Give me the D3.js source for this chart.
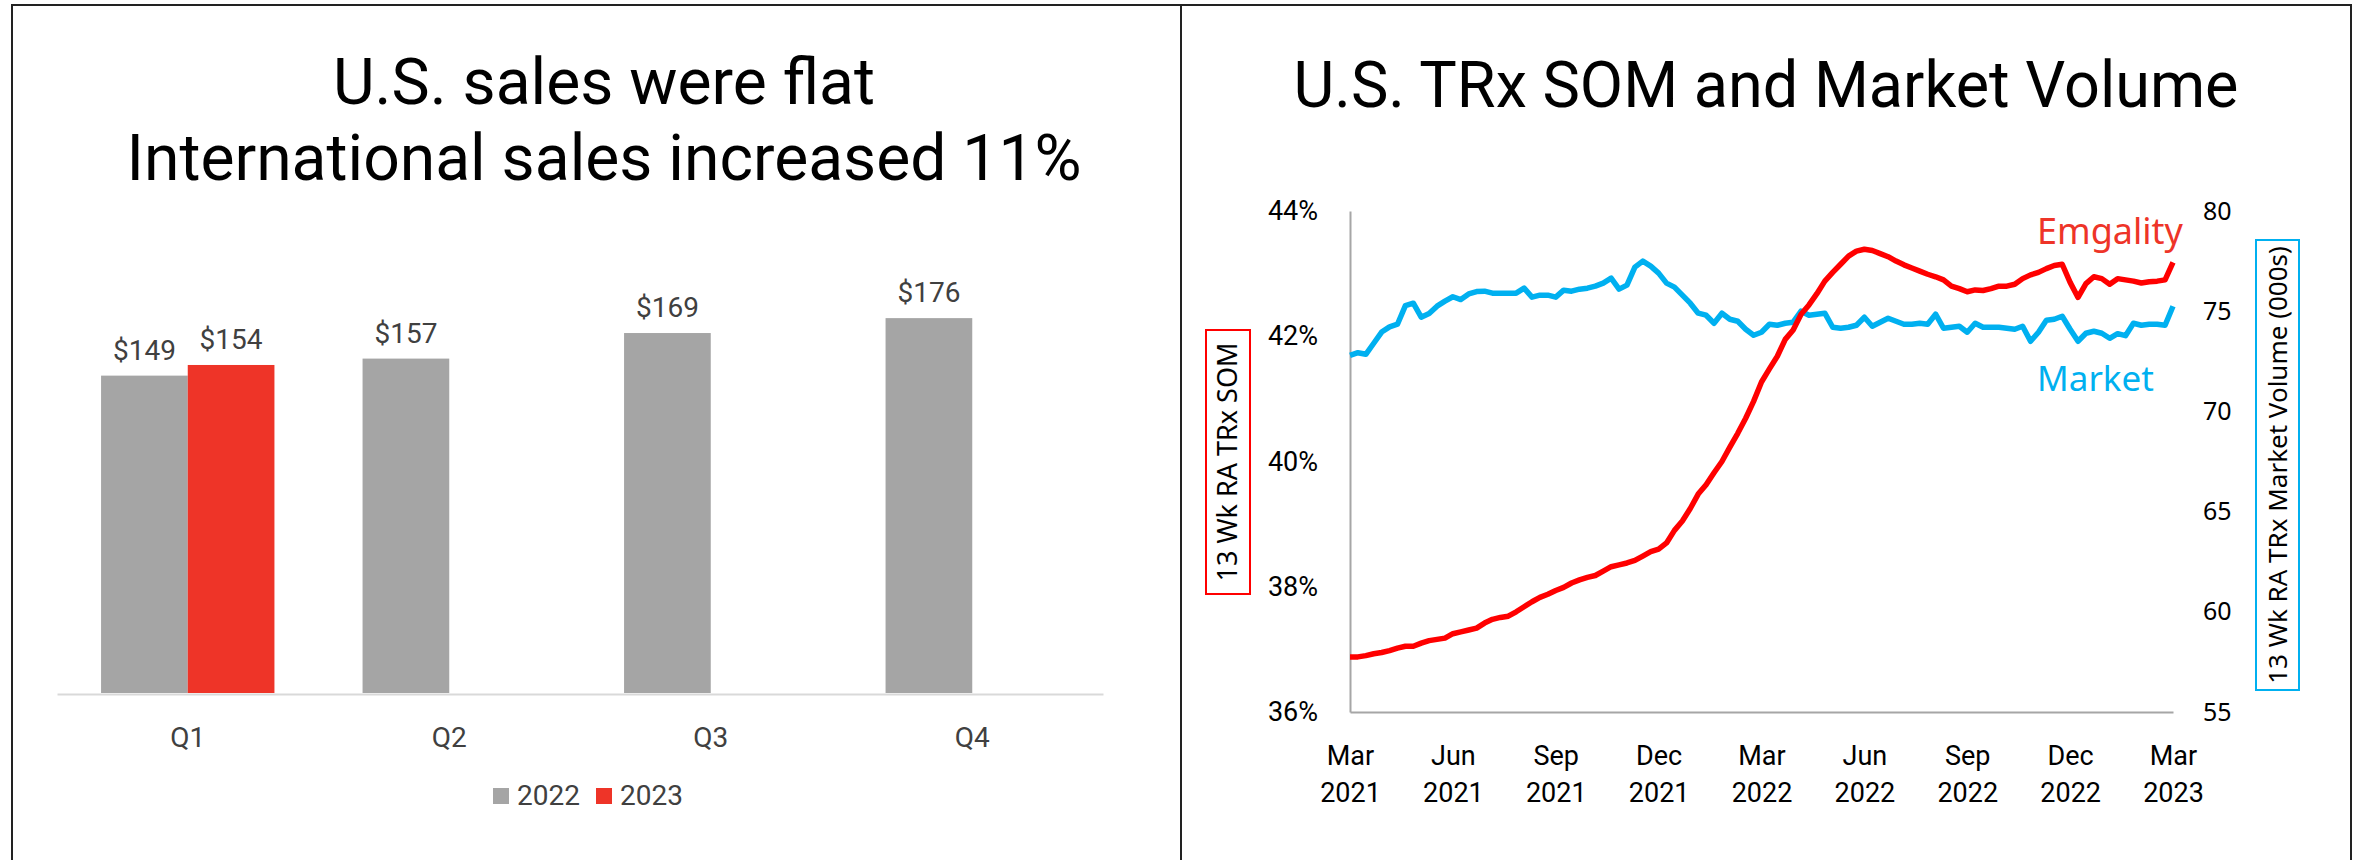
<!DOCTYPE html>
<html>
<head>
<meta charset="utf-8">
<script src="https://cdn.jsdelivr.net/npm/d3@7"></script>
<style>
  body { margin: 0; background: #fff; }
  svg { display: block; }
</style>
</head>
<body>
<div class="canvas"></div>
<script>
// Left chart data (quarterly sales, $M)
const quarters = ['Q1', 'Q2', 'Q3', 'Q4']
const years = ['2022', '2023']
const sales2022 = [149, 157, 169, 176]
const sales2023 = [154, null, null, null]

// Right chart data (weekly, Mar 2021 -> Mar 2023)
const tickMonths = ['Mar', 'Jun', 'Sep', 'Dec', 'Mar', 'Jun', 'Sep', 'Dec', 'Mar']
const tickYears = ['2021', '2021', '2021', '2021', '2022', '2022', '2022', '2022', '2023']
const somTicks = [36, 38, 40, 42, 44]
const volumeTicks = [55, 60, 65, 70, 75, 80]

const emgalitySom = [
  36.88, 36.88, 36.9, 36.93, 36.95, 36.98, 37.02, 37.05, 37.05, 37.1,
  37.14, 37.16, 37.18, 37.25, 37.28, 37.31, 37.34, 37.42, 37.48, 37.51,
  37.53, 37.6, 37.68, 37.76, 37.83, 37.88, 37.94, 37.99, 38.06, 38.11,
  38.15, 38.18, 38.25, 38.32, 38.35, 38.38, 38.42, 38.49, 38.56, 38.6,
  38.7, 38.9, 39.05, 39.25, 39.48, 39.63, 39.82, 40.0, 40.23, 40.45,
  40.69, 40.96, 41.27, 41.48, 41.68, 41.95, 42.1, 42.35, 42.5, 42.68,
  42.88, 43.02, 43.15, 43.28, 43.36, 43.39, 43.37, 43.32, 43.27, 43.2,
  43.14, 43.09, 43.04, 42.99, 42.95, 42.9, 42.8, 42.76, 42.71, 42.74,
  42.73, 42.76, 42.8, 42.8, 42.83, 42.92, 42.98, 43.02, 43.08, 43.13,
  43.15, 42.86, 42.62, 42.84, 42.95, 42.92, 42.83, 42.92, 42.9, 42.88,
  42.85, 42.87, 42.88, 42.9, 43.18
]

const marketVolume = [
  72.8, 72.93, 72.85, 73.4, 73.96, 74.22, 74.35, 75.28, 75.4, 74.7,
  74.88, 75.25, 75.5, 75.72, 75.58, 75.86, 75.98, 76.0, 75.9, 75.9,
  75.9, 75.9, 76.15, 75.7, 75.8, 75.8, 75.7, 76.05, 76.0, 76.1,
  76.15, 76.25, 76.4, 76.65, 76.1, 76.3, 77.2, 77.5, 77.25, 76.9,
  76.4, 76.2, 75.8, 75.4, 74.9, 74.8, 74.4, 74.9, 74.6, 74.5,
  74.1, 73.8, 73.95, 74.35, 74.3, 74.4, 74.45, 75.0, 74.8, 74.85,
  74.9, 74.2, 74.15, 74.2, 74.3, 74.7, 74.25, 74.45, 74.65, 74.5,
  74.35, 74.35, 74.4, 74.35, 74.85, 74.15, 74.2, 74.25, 73.95, 74.4,
  74.2, 74.2, 74.2, 74.15, 74.1, 74.25, 73.5, 73.95, 74.55, 74.6,
  74.75, 74.1, 73.5, 73.9, 74.0, 73.9, 73.65, 73.88, 73.78, 74.4,
  74.3, 74.35, 74.35, 74.3, 75.25
]

const din = 'Roboto, "Liberation Sans", sans-serif'
const noto = '"Noto Sans", "Open Sans", sans-serif'

const svg = d3.select('.canvas')
  .append('svg')
    .attr('width', 2356)
    .attr('height', 860)

// Panel frames
svg.append('path')
  .attr('d', 'M12,860V5H2351V860M1181,5V860')
  .attr('fill', 'none')
  .attr('stroke', '#222')
  .attr('stroke-width', 2)

// ---------- Left: bar chart ----------
const left = svg.append('g')

// title lines, widths measured off the slide
left.selectAll('.title')
  .data([
    { text: 'U.S. sales were flat', width: 542 },
    { text: 'International sales increased 11%', width: 955 }
  ])
  .enter().append('text')
    .attr('x', 604)
    .attr('y', (d, i) => 104 + i * 76)
    .attr('text-anchor', 'middle')
    .attr('font-family', din)
    .attr('font-size', 64)
    .attr('textLength', d => d.width)
    .attr('lengthAdjust', 'spacingAndGlyphs')
    .attr('fill', '#000')
    .text(d => d.text)

const x0 = d3.scaleBand()
  .domain(quarters)
  .range([57, 1103])
  .paddingInner(0.337)
  .paddingOuter(0.1685)

const x1 = d3.scaleBand()
  .domain(years)
  .range([0, x0.bandwidth()])

const yBar = d3.scaleLinear()
  .domain([0, 200])
  .range([693, 267])

const barColor = { '2022': '#a5a5a5', '2023': '#ee3428' }

const barData = []
quarters.forEach((q, i) => {
  barData.push({ q, year: '2022', value: sales2022[i] })
  if (sales2023[i] != null) barData.push({ q, year: '2023', value: sales2023[i] })
})

left.selectAll('rect.bar')
  .data(barData)
  .enter().append('rect')
    .attr('class', 'bar')
    .attr('x', d => x0(d.q) + x1(d.year))
    .attr('y', d => yBar(d.value))
    .attr('width', x1.bandwidth())
    .attr('height', d => yBar(0) - yBar(d.value))
    .attr('fill', d => barColor[d.year])

left.selectAll('text.val')
  .data(barData)
  .enter().append('text')
    .attr('class', 'val')
    .attr('x', d => x0(d.q) + x1(d.year) + x1.bandwidth() / 2)
    .attr('y', d => yBar(d.value) - 16)
    .attr('text-anchor', 'middle')
    .attr('font-family', din)
    .attr('font-size', 28)
    .attr('fill', '#404040')
    .text(d => '$' + d.value)

const xBarAxis = left.append('g')
  .attr('transform', `translate(0, ${yBar(0) + 1})`)
  .call(d3.axisBottom(x0).tickSize(0).tickSizeOuter(0))

xBarAxis.select('.domain').attr('stroke', '#d9d9d9').attr('stroke-width', 2)
xBarAxis.selectAll('text')
  .attr('y', 53)
  .attr('dy', 0)
  .attr('font-family', din)
  .attr('font-size', 28)
  .attr('fill', '#404040')

// Legend
const legend = left.selectAll('.legend')
  .data(years)
  .enter().append('g')
    .attr('transform', (d, i) => `translate(${493 + i * 103}, 788)`)

legend.append('rect')
  .attr('width', 16)
  .attr('height', 16)
  .attr('fill', d => barColor[d])

legend.append('text')
  .attr('x', 24)
  .attr('y', 17)
  .attr('font-family', din)
  .attr('font-size', 28)
  .attr('fill', '#404040')
  .text(d => d)

// ---------- Right: line chart ----------
const right = svg.append('g')

right.append('text')
  .attr('x', 1766)
  .attr('y', 107)
  .attr('text-anchor', 'middle')
  .attr('font-family', din)
  .attr('font-size', 64)
  .attr('textLength', 945)
  .attr('lengthAdjust', 'spacingAndGlyphs')
  .attr('fill', '#000')
  .text('U.S. TRx SOM and Market Volume')

const xWeek = d3.scaleLinear()
  .domain([0, emgalitySom.length - 1])
  .range([1350, 2173])

const ySom = d3.scaleLinear()
  .domain([36, 44])
  .range([712, 211])

const yVol = d3.scaleLinear()
  .domain([55, 80])
  .range([712, 211])

// Left y axis (SOM %)
const somAxis = right.append('g')
  .attr('transform', 'translate(1350, 0)')
  .call(d3.axisLeft(ySom).tickValues(somTicks).tickFormat(d => d + '%').tickSize(0).tickSizeOuter(0).tickPadding(32))
somAxis.select('.domain').attr('stroke', '#a6a6a6').attr('stroke-width', 2)
somAxis.selectAll('text')
  .attr('font-family', din)
  .attr('font-size', 27)
  .attr('fill', '#000')

// Right y axis (volume)
const volAxis = right.append('g')
  .attr('transform', 'translate(2173, 0)')
  .call(d3.axisRight(yVol).tickValues(volumeTicks).tickSize(0).tickPadding(30))
volAxis.select('.domain').remove()
volAxis.selectAll('text')
  .attr('font-family', noto)
  .attr('font-size', 25)
  .attr('fill', '#000')

// X axis (quarters)
const quarterWeeks = tickMonths.map((m, i) => i * 13)
const xLineAxis = right.append('g')
  .attr('transform', `translate(0, ${ySom(36)})`)
  .call(d3.axisBottom(xWeek).tickValues(quarterWeeks).tickSize(0).tickSizeOuter(0).tickFormat(''))
xLineAxis.select('.domain').attr('stroke', '#a6a6a6').attr('stroke-width', 2)

const xLabel = xLineAxis.selectAll('.tick text')
  .attr('y', 0)
  .attr('dy', 0)
  .attr('font-family', din)
  .attr('font-size', 27)
  .attr('fill', '#000')

xLabel.append('tspan')
  .attr('x', 0)
  .attr('y', 53)
  .text((d, i) => tickMonths[i])
xLabel.append('tspan')
  .attr('x', 0)
  .attr('y', 90)
  .text((d, i) => tickYears[i])

// Lines
const somLine = d3.line()
  .x((d, i) => xWeek(i))
  .y(d => ySom(d))

const volLine = d3.line()
  .x((d, i) => xWeek(i))
  .y(d => yVol(d))

right.append('path')
  .datum(marketVolume)
  .attr('d', volLine)
  .attr('fill', 'none')
  .attr('stroke', '#00b0f0')
  .attr('stroke-width', 5.5)
  .attr('stroke-linejoin', 'round')

right.append('path')
  .datum(emgalitySom)
  .attr('d', somLine)
  .attr('fill', 'none')
  .attr('stroke', '#ff0000')
  .attr('stroke-width', 5.5)
  .attr('stroke-linejoin', 'round')

// Series labels
right.append('text')
  .attr('x', 2037)
  .attr('y', 244)
  .attr('font-family', noto)
  .attr('font-size', 36)
  .attr('fill', '#ee3428')
  .text('Emgality')

right.append('text')
  .attr('x', 2037)
  .attr('y', 391)
  .attr('font-family', noto)
  .attr('font-size', 35)
  .attr('fill', '#00b0f0')
  .text('Market')

// Boxed axis titles
const axisTitles = [
  { text: '13 Wk RA TRx SOM', x: 1206, y: 330, w: 44, h: 264, size: 27, color: '#ff0000' },
  { text: '13 Wk RA TRx Market Volume (000s)', x: 2256, y: 240, w: 43, h: 450, size: 26, color: '#00b0f0' }
]

const titleBox = right.selectAll('.axis-title')
  .data(axisTitles)
  .enter().append('g')

titleBox.append('rect')
  .attr('x', d => d.x)
  .attr('y', d => d.y)
  .attr('width', d => d.w)
  .attr('height', d => d.h)
  .attr('fill', 'none')
  .attr('stroke', d => d.color)
  .attr('stroke-width', 2)

titleBox.append('text')
  .attr('transform', d => `translate(${d.x + d.w / 2 + 9}, ${d.y + d.h / 2}) rotate(-90)`)
  .attr('text-anchor', 'middle')
  .attr('font-family', noto)
  .attr('font-size', d => d.size)
  .attr('fill', '#000')
  .text(d => d.text)
</script>
</body>
</html>
